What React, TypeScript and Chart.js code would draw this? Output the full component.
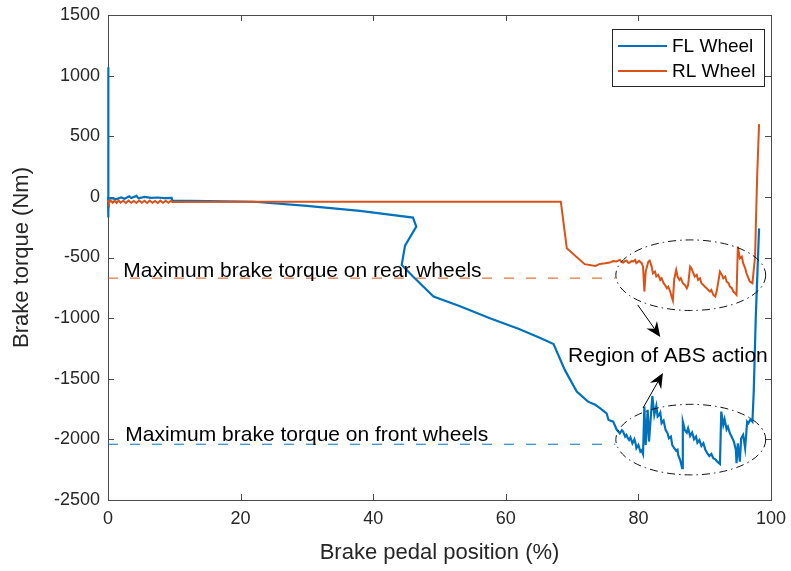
import { useEffect, useRef } from "react";
import { Chart, registerables } from "chart.js";

Chart.register(...registerables);

const FONT = '"Liberation Sans", Arial, Helvetica, sans-serif';
const BLUE = "#0072BD";
const ORANGE = "#D95319";
const INK = "#262626";

// Tick positions
const X_TICKS = [0, 20, 40, 60, 80, 100];
const Y_TICKS = [-2500, -2000, -1500, -1000, -500, 0, 500, 1000, 1500];

// Brake torque (Nm) against brake pedal position (%)
const FL_WHEEL: [number, number][] = [
  [0, 0], [0, 1070], [0.05, -170], [0.1, -15], [0.6, -10], [1.2, -20], [2, -5],
  [2.5, -15], [3.2, 5], [3.5, -10], [4.3, 8], [4.6, -12], [5.5, 0], [6.5, -8],
  [7.5, -5], [8.5, -10], [9.6, -8], [9.7, -30], [15, -35], [22, -40], [30, -75],
  [38, -115], [46, -171], [46.5, -245], [44.8, -402], [44.3, -561], [46, -657],
  [49.1, -822], [53, -900], [57.6, -1001], [62, -1090], [65.2, -1163], [67.2, -1213],
  [68.9, -1427], [70.7, -1606], [72.4, -1689], [73.5, -1715], [74.2, -1743],
  [75.2, -1785], [75.5, -1840], [76.2, -1854], [76.7, -1917], [77.2, -1950],
  [77.5, -1925], [77.7, -1936], [78.0, -1977], [78.2, -1963], [78.4, -1990],
  [78.6, -2005], [78.8, -1983], [79.1, -2032], [79.4, -1999], [79.6, -2040],
  [79.7, -2073], [80.0, -2046], [80.3, -2101], [80.5, -2090], [80.7, -2120],
  [80.9, -1730], [81.1, -2046], [81.4, -1757], [81.6, -2018], [81.8, -1867],
  [82.1, -1642], [82.4, -1798], [82.7, -1724], [82.9, -1812], [83.1, -1800],
  [83.3, -1779], [83.5, -1867], [83.8, -1845], [84.1, -1922], [84.4, -1950],
  [84.6, -1991], [84.9, -1977], [85.1, -2046], [85.4, -2073], [85.7, -2093],
  [85.9, -2085], [86.0, -2128], [86.3, -2170], [86.6, -2238], [86.7, -1854],
  [87.0, -1922], [87.3, -1944], [87.5, -1908], [87.8, -1972], [88.1, -1944],
  [88.4, -1999], [88.7, -1977], [88.9, -2027], [89.2, -2005], [89.5, -2054],
  [89.8, -2032], [90.1, -2087], [90.4, -2115], [90.7, -2137], [91.0, -2120],
  [91.3, -2156], [91.6, -2164], [91.9, -2184], [92.3, -2203], [92.5, -1771],
  [92.8, -1881], [93.0, -1834], [93.3, -1917], [93.5, -1895], [93.8, -1950],
  [94.1, -1983], [94.4, -2018], [94.7, -2087], [94.8, -2197], [95.0, -2032],
  [95.3, -2184], [95.5, -1991], [95.8, -1963], [96.1, -2073], [96.4, -1854],
  [96.6, -1867], [96.9, -1834], [97.2, -1854], [97.4, -1600], [97.7, -1000],
  [98.2, -260],
];

const RL_WHEEL: [number, number][] = [
  [0, -25], [0.15, -50], [0.4, -30], [0.7, -48], [1.0, -32], [1.3, -50], [1.6, -30],
  [1.9, -48], [2.3, -32], [2.7, -50], [3.1, -30], [3.5, -48], [3.9, -33], [4.3, -50],
  [4.7, -30], [5.1, -48], [5.5, -32], [5.9, -50], [6.3, -31], [6.7, -48], [7.1, -33],
  [7.5, -50], [7.9, -31], [8.3, -48], [8.7, -32], [9.1, -49], [9.5, -33], [9.7, -42],
  [20, -40], [40, -40], [68.3, -40], [69.2, -423], [71.9, -555], [73.5, -569],
  [74.2, -553], [75.0, -548], [75.7, -542], [76.2, -530], [76.7, -533], [77.2, -520],
  [77.5, -538], [77.7, -542], [78.0, -528], [78.2, -525], [78.5, -545], [78.7, -542],
  [79.0, -528], [79.2, -533], [79.5, -520], [79.7, -547], [80.1, -528], [80.5, -547],
  [80.7, -575], [80.9, -781], [81.1, -616], [81.5, -533], [81.7, -525], [82.0, -575],
  [82.2, -630], [82.5, -616], [82.7, -657], [83.0, -643], [83.3, -685], [83.5, -671],
  [83.8, -712], [84.0, -726], [84.3, -753], [84.5, -740], [84.8, -781], [85.0, -822],
  [85.2, -855], [85.4, -679], [85.7, -602], [85.9, -657], [86.2, -685], [86.4, -671],
  [86.7, -712], [87.0, -726], [87.3, -753], [87.5, -726], [87.8, -574], [88.0, -588],
  [88.3, -630], [88.5, -657], [88.8, -643], [89.0, -685], [89.3, -671], [89.5, -712],
  [89.8, -726], [90.0, -740], [90.3, -753], [90.5, -767], [90.8, -781], [91.0, -767],
  [91.3, -808], [91.6, -822], [91.8, -781], [92.1, -685], [92.3, -616], [92.6, -643],
  [92.8, -671], [93.1, -657], [93.3, -698], [93.6, -712], [93.8, -740], [94.1, -753],
  [94.3, -781], [94.6, -795], [94.8, -808], [95.0, -410], [95.3, -506], [95.6, -492],
  [95.8, -547], [96.1, -588], [96.3, -630], [96.6, -671], [96.8, -698], [97.2, -712],
  [97.6, -490], [97.9, 150], [98.2, 600],
];

// Maximum brake torque reference levels
const REAR_MAX = -670;
const FRONT_MAX = -2040;
const LIMIT_X = [0, 76.5];

// ABS regions (centre and half-axes in data units)
const ABS_ZONES = [
  { cx: 87.9, cy: -646, rx: 11.3, ry: 291 },
  { cx: 87.9, cy: -2002, rx: 11.3, ry: 291 },
];
const ABS_ARROWS: [number, number, number, number][] = [
  [79.9, -891, 83.3, -1155],
  [80.7, -1741, 83.7, -1452],
];
const NOTES = [
  { text: "Maximum brake torque on rear wheels", x: 2.3, y: -658 },
  { text: "Maximum brake torque on front wheels", x: 2.6, y: -2011 },
  { text: "Region of ABS action", x: 69.4, y: -1359 },
];
const LEGEND = [
  { label: "FL Wheel", color: BLUE },
  { label: "RL Wheel", color: ORANGE },
];

const toPoints = (pts: [number, number][]) => pts.map(([x, y]) => ({ x, y }));

// keep label overhang from pushing the plot area around
const noOverhang = (s: any) => {
  s.paddingTop = 0;
  s.paddingBottom = 0;
  s.paddingLeft = 0;
  s.paddingRight = 0;
};

const figurePlugin = {
  id: "figureDecor",
  beforeDatasetsDraw(chart: any) {
    const { ctx, scales, chartArea } = chart;
    const { left, right, top, bottom } = chartArea;
    ctx.save();
    ctx.strokeStyle = "#4a4a4a";
    ctx.lineWidth = 1;
    ctx.strokeRect(left + 0.5, top + 0.5, right - left, bottom - top);
    const tl = 6;
    ctx.beginPath();
    X_TICKS.forEach((v) => {
      const px = Math.round(scales.x.getPixelForValue(v)) + 0.5;
      ctx.moveTo(px, bottom);
      ctx.lineTo(px, bottom - tl);
      ctx.moveTo(px, top);
      ctx.lineTo(px, top + tl);
    });
    Y_TICKS.forEach((v) => {
      const py = Math.round(scales.y.getPixelForValue(v)) + 0.5;
      ctx.moveTo(left, py);
      ctx.lineTo(left + tl, py);
      ctx.moveTo(right, py);
      ctx.lineTo(right - tl, py);
    });
    ctx.stroke();
    ctx.restore();
  },
  afterDatasetsDraw(chart: any) {
    const { ctx, scales, chartArea } = chart;
    const xs = scales.x;
    const ys = scales.y;
    ctx.save();

    // dash-dot ellipses around the ABS regions
    ctx.strokeStyle = "#111";
    ctx.lineWidth = 1;
    ctx.setLineDash([8, 4, 1.5, 4]);
    ABS_ZONES.forEach((z) => {
      const cx = xs.getPixelForValue(z.cx);
      const cy = ys.getPixelForValue(z.cy);
      const rx = Math.abs(xs.getPixelForValue(z.cx + z.rx) - cx);
      const ry = Math.abs(ys.getPixelForValue(z.cy + z.ry) - cy);
      ctx.beginPath();
      ctx.ellipse(cx, cy, rx, ry, 0, 0, Math.PI * 2);
      ctx.stroke();
    });
    ctx.setLineDash([]);

    // arrows
    ABS_ARROWS.forEach(([x0, y0, x1, y1]) => {
      const ax = xs.getPixelForValue(x0);
      const ay = ys.getPixelForValue(y0);
      const bx = xs.getPixelForValue(x1);
      const by = ys.getPixelForValue(y1);
      const ang = Math.atan2(by - ay, bx - ax);
      const len = 15;
      const half = 6.5;
      const notch = 10;
      const ux = Math.cos(ang);
      const uy = Math.sin(ang);
      ctx.strokeStyle = "#000";
      ctx.lineWidth = 1;
      ctx.beginPath();
      ctx.moveTo(ax, ay);
      ctx.lineTo(bx - ux * notch, by - uy * notch);
      ctx.stroke();
      ctx.fillStyle = "#000";
      ctx.beginPath();
      ctx.moveTo(bx, by);
      ctx.lineTo(bx - ux * len - uy * half, by - uy * len + ux * half);
      ctx.lineTo(bx - ux * notch, by - uy * notch);
      ctx.lineTo(bx - ux * len + uy * half, by - uy * len - ux * half);
      ctx.closePath();
      ctx.fill();
    });

    // text notes
    ctx.fillStyle = "#000";
    ctx.font = `21px ${FONT}`;
    ctx.textAlign = "left";
    ctx.textBaseline = "alphabetic";
    NOTES.forEach((n) => {
      ctx.fillText(n.text, xs.getPixelForValue(n.x), ys.getPixelForValue(n.y));
    });

    // legend box
    const bw = 152;
    const bh = 57;
    const bx = chartArea.right - 7 - bw;
    const by = chartArea.top + 14;
    ctx.fillStyle = "#fff";
    ctx.fillRect(bx, by, bw, bh);
    ctx.strokeStyle = INK;
    ctx.lineWidth = 1;
    ctx.strokeRect(bx + 0.5, by + 0.5, bw, bh);
    ctx.font = `19px ${FONT}`;
    ctx.textBaseline = "middle";
    LEGEND.forEach((item, i) => {
      const yy = by + 17 + i * 25;
      ctx.strokeStyle = item.color;
      ctx.lineWidth = 2;
      ctx.beginPath();
      ctx.moveTo(bx + 6, yy);
      ctx.lineTo(bx + 55, yy);
      ctx.stroke();
      ctx.fillStyle = "#000";
      ctx.fillText(item.label, bx + 60, yy + 1);
    });
    ctx.restore();
  },
};

export default function App() {
  const ref = useRef<HTMLCanvasElement | null>(null);

  useEffect(() => {
    document.body.style.margin = "0";
    const canvas = ref.current;
    if (!canvas) return;
    const chart = new Chart(canvas, {
      type: "line",
      data: {
        datasets: [
          {
            label: "RL Wheel",
            data: toPoints(RL_WHEEL),
            borderColor: ORANGE,
            borderWidth: 2,
            pointRadius: 0,
            tension: 0,
            clip: 4,
            order: 0,
          },
          {
            label: "FL Wheel",
            data: toPoints(FL_WHEEL),
            borderColor: BLUE,
            borderWidth: 2.2,
            pointRadius: 0,
            tension: 0,
            clip: 4,
            order: 1,
          },
          {
            label: "rear max",
            data: LIMIT_X.map((x) => ({ x, y: REAR_MAX })),
            borderColor: ORANGE,
            borderWidth: 1,
            borderDash: [10, 12],
            pointRadius: 0,
            order: 2,
          },
          {
            label: "front max",
            data: LIMIT_X.map((x) => ({ x, y: FRONT_MAX })),
            borderColor: BLUE,
            borderWidth: 1,
            borderDash: [10, 12],
            pointRadius: 0,
            order: 2,
          },
        ],
      },
      options: {
        animation: false,
        responsive: false,
        layout: { padding: { top: 15, right: 20, left: 0, bottom: 0 } },
        plugins: { legend: { display: false }, tooltip: { enabled: false } },
        scales: {
          x: {
            type: "linear",
            min: 0,
            max: 100,
            afterFit: (s: any) => {
              s.height = 71;
              noOverhang(s);
            },
            afterBuildTicks: (s: any) => {
              s.ticks = X_TICKS.map((value) => ({ value }));
            },
            grid: { display: false, drawTicks: false },
            border: { display: false },
            ticks: {
              padding: 8,
              color: INK,
              font: { family: FONT, size: 18 },
              maxRotation: 0,
              callback: (v: any) => String(v),
            },
            title: {
              display: true,
              text: "Brake pedal position (%)",
              color: INK,
              font: { family: FONT, size: 22 },
              padding: { top: 0, bottom: 5 },
            },
          },
          y: {
            type: "linear",
            min: -2500,
            max: 1500,
            afterFit: (s: any) => {
              s.width = 108;
              noOverhang(s);
            },
            afterBuildTicks: (s: any) => {
              s.ticks = Y_TICKS.map((value) => ({ value }));
            },
            grid: { display: false, drawTicks: false },
            border: { display: false },
            ticks: {
              padding: 8,
              color: INK,
              font: { family: FONT, size: 18 },
              callback: (v: any) => String(v),
            },
            title: {
              display: true,
              text: "Brake torque (Nm)",
              color: INK,
              font: { family: FONT, size: 22 },
              padding: { top: 9, bottom: 0 },
            },
          },
        },
      },
      plugins: [figurePlugin],
    });
    return () => chart.destroy();
  }, []);

  return (
    <div style={{ width: 791, height: 571 }}>
      <canvas ref={ref} width={791} height={571} />
    </div>
  );
}
